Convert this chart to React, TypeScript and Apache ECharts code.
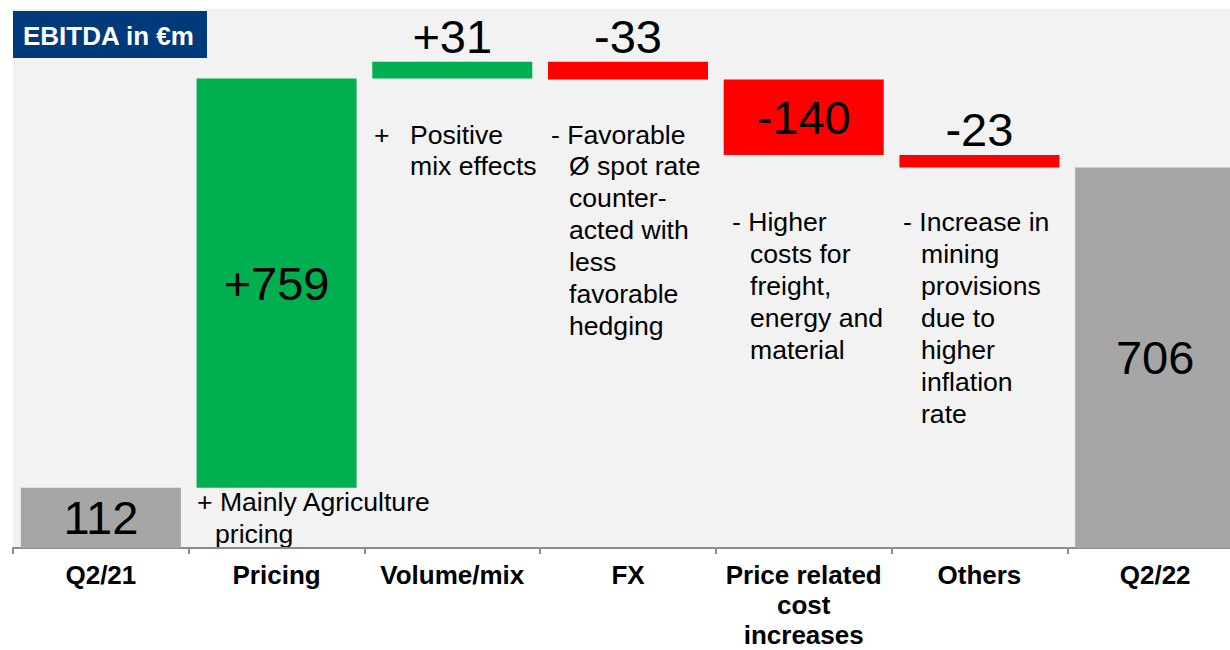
import React, { useEffect, useRef } from "react";
import * as echarts from "echarts";

const categories = ["Q2/21", "Pricing", "Volume/mix", "FX", "Price related\ncost\nincreases", "Others", "Q2/22"];
const deltas = [112, 759, 31, -33, -140, -23, 706];
const kinds = ["total", "up", "up", "down", "down", "down", "total"];
const valueLabels = ["112", "+759", "+31", "-33", "-140", "-23", "706"];

const FONT = "'Liberation Sans', Arial, Helvetica, sans-serif";

export default function App() {
  const ref = useRef<HTMLDivElement>(null);
  useEffect(() => {
    if (!ref.current) return;
    const chart = echarts.init(ref.current, undefined, { renderer: "svg" });

    const bases: number[] = [];
    const heights: number[] = [];
    let run = 0;
    deltas.forEach((d, i) => {
      if (kinds[i] === "total") {
        bases.push(0);
        heights.push(d);
        run = d;
      } else if (d >= 0) {
        bases.push(run);
        heights.push(d);
        run += d;
      } else {
        run += d;
        bases.push(run);
        heights.push(-d);
      }
    });
    const colorOf = (k: string) => (k === "total" ? "#a6a6a6" : k === "up" ? "#00b050" : "#ff0000");

    const txt = (x: number, y: number, text: string) => ({
      type: "text",
      x,
      y,
      style: { text, fill: "#000", font: `26.6px ${FONT}`, textVerticalAlign: "middle" },
    });

    const annot: any[] = [
      txt(197, 502, "+ Mainly Agriculture"),
      txt(215, 534, "pricing"),
      txt(374, 135, "+"),
      txt(410, 135, "Positive"),
      txt(410, 166, "mix effects"),
      txt(551, 135, "- Favorable"),
      txt(569, 166, "Ø spot rate"),
      txt(569, 198, "counter-"),
      txt(569, 230, "acted with"),
      txt(569, 262, "less"),
      txt(569, 294, "favorable"),
      txt(569, 326, "hedging"),
      txt(732, 222, "- Higher"),
      txt(750, 254, "costs for"),
      txt(750, 286, "freight,"),
      txt(750, 318, "energy and"),
      txt(750, 350, "material"),
      txt(903, 222, "- Increase in"),
      txt(921, 254, "mining"),
      txt(921, 286, "provisions"),
      txt(921, 318, "due to"),
      txt(921, 350, "higher"),
      txt(921, 382, "inflation"),
      txt(921, 414, "rate"),
    ];

    chart.setOption({
      animation: false,
      grid: {
        left: 13,
        right: -13,
        top: 9,
        bottom: 102,
        show: true,
        backgroundColor: "#f2f2f2",
        borderWidth: 0,
        outerBoundsMode: "none",
        containLabel: false,
      },
      xAxis: {
        type: "category",
        data: categories,
        axisLine: { show: true, lineStyle: { color: "#8c8c8c", width: 2 } },
        axisTick: { show: true, length: 6, lineStyle: { color: "#8c8c8c", width: 2 } },
        axisLabel: {
          color: "#000",
          fontFamily: FONT,
          fontSize: 26,
          fontWeight: "bold",
          lineHeight: 30,
          margin: 12,
          interval: 0,
        },
      },
      yAxis: {
        type: "value",
        min: 0,
        max: 1000,
        show: false,
        splitLine: { show: false },
      },
      series: [
        {
          type: "bar",
          stack: "w",
          data: bases,
          itemStyle: { color: "transparent" },
          barWidth: 160,
          silent: true,
        },
        {
          type: "bar",
          stack: "w",
          barWidth: 160,
          data: heights.map((h, i) => ({
            value: h,
            itemStyle: { color: colorOf(kinds[i]) },
            label: {
              show: true,
              position: h < 100 ? "top" : "inside",
              distance: 2,
              formatter: valueLabels[i],
              color: "#000",
              fontFamily: FONT,
              fontSize: 47,
            },
          })),
        },
      ],
      graphic: [
        {
          type: "rect",
          shape: { x: 13, y: 11, width: 194, height: 47 },
          style: { fill: "#003a7a" },
        },
        {
          type: "text",
          x: 23,
          y: 36,
          style: { text: "EBITDA in €m", fill: "#fff", font: `bold 26px ${FONT}`, textVerticalAlign: "middle" },
        },
        ...annot,
      ],
    });
    return () => chart.dispose();
  }, []);
  return (
    <div
      ref={ref}
      style={{ position: "absolute", left: 0, top: 0, width: 1230, height: 650, background: "#fff" }}
    />
  );
}
